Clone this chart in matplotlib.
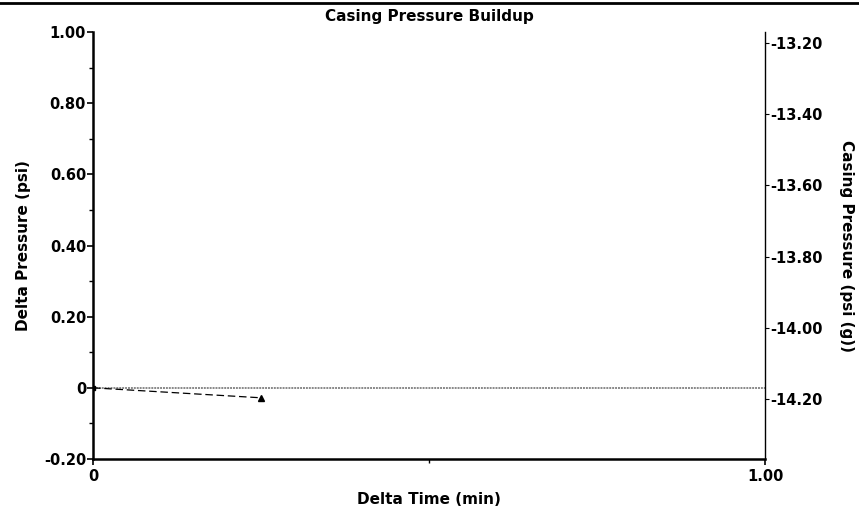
import matplotlib
matplotlib.use("Agg")
import matplotlib.pyplot as plt
from matplotlib.lines import Line2D
from matplotlib.ticker import MultipleLocator, FixedLocator

# data
delta_time = [0.0, 0.25]
delta_pressure = [0.0, -0.028]

y_ticks = [-0.2, 0.0, 0.2, 0.4, 0.6, 0.8, 1.0]
y_labels = ["-0.20", "0", "0.20", "0.40", "0.60", "0.80", "1.00"]
x_ticks = [0.0, 1.0]
x_labels = ["0", "1.00"]
right_ticks = [-13.2, -13.4, -13.6, -13.8, -14.0, -14.2]
right_labels = ["-13.20", "-13.40", "-13.60", "-13.80", "-14.00", "-14.20"]

plt.rcParams["font.family"] = ["DejaVu Sans"]
plt.rcParams["font.weight"] = "bold"

fig = plt.figure(figsize=(8.59, 5.14), dpi=100)
ax = fig.add_axes([0.1083, 0.107, 0.7823, 0.8307])

# zero reference line
ax.axhline(0, color="#888888", linewidth=1.4, linestyle=(0, (1, 0.5)), zorder=1)

ax.plot(delta_time, delta_pressure, color="black", linestyle=(0, (6, 3)), linewidth=0.9, zorder=2)
ax.plot(delta_time[:1], delta_pressure[:1], marker="s", markersize=3, color="black", linestyle="none")
ax.plot(delta_time[1:], delta_pressure[1:], marker="^", markersize=5, color="black", linestyle="none")

ax.set_xlim(0, 1.0)
ax.set_ylim(-0.2, 1.0)
ax.set_yticks(y_ticks)
ax.set_yticklabels(y_labels)
ax.set_xticks(x_ticks)
ax.set_xticklabels(x_labels)
ax.yaxis.set_minor_locator(MultipleLocator(0.1))
ax.xaxis.set_minor_locator(FixedLocator([0.5]))

for s in ["top", "right"]:
    ax.spines[s].set_visible(False)
ax.spines["left"].set_linewidth(1.8)
ax.spines["bottom"].set_linewidth(1.8)

ax.tick_params(axis="both", which="major", direction="out", length=4, width=1.2, labelsize=10.5, pad=1)
ax.tick_params(axis="x", which="major", pad=3)
ax.tick_params(axis="both", which="minor", direction="out", length=3, width=1.0)

ax.set_xlabel("Delta Time (min)", fontsize=11, fontweight="bold", labelpad=6)
ax.set_ylabel("Delta Pressure (psi)", fontsize=11, fontweight="bold", labelpad=9)
ax.set_title("Casing Pressure Buildup", fontsize=11, fontweight="bold", pad=8)

# right axis: casing pressure
ax2 = ax.twinx()
ax2.set_ylim(-14.2 - 0.2 * 60 / 71.2, -13.2 + 11 / 356)
ax2.set_yticks(right_ticks)
ax2.set_yticklabels(right_labels)
for s in ["top", "left", "bottom"]:
    ax2.spines[s].set_visible(False)
ax2.spines["right"].set_linewidth(1.0)
ax2.tick_params(axis="y", direction="out", length=3, width=0.8, labelsize=10.5, pad=1)
ax2.set_ylabel("Casing Pressure (psi (g))", fontsize=11, fontweight="bold", rotation=270, labelpad=22)

# top border line
fig.add_artist(Line2D([0, 1], [0.995, 0.995], color="black", linewidth=2, transform=fig.transFigure))

fig.savefig("out.png", dpi=100)
